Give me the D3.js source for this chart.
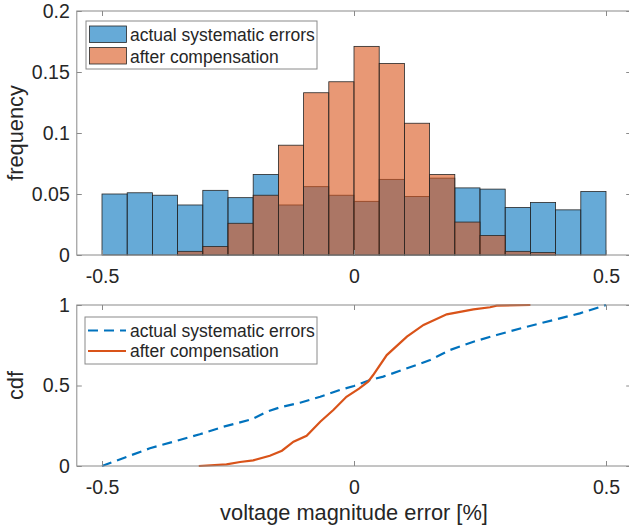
<html>
<head>
  <meta charset="UTF-8">
  <title>Voltage magnitude error</title>
  <script src="https://d3js.org/d3.v7.min.js"></script>
  <style>
    body { margin: 0; background: #fff; }
    text { font-family: "Liberation Sans", Arial, Helvetica, sans-serif; fill: #262626; }
  </style>
</head>
<body>
  <svg id="chart" width="629" height="529"></svg>
  <script>
    /* Data */
    // left edges of the 20 histogram bins (width 0.05)
    const binStarts = [-0.5, -0.45, -0.4, -0.35, -0.3, -0.25, -0.2, -0.15, -0.1, -0.05,
                       0, 0.05, 0.1, 0.15, 0.2, 0.25, 0.3, 0.35, 0.4, 0.45];
    const binWidth = 0.05;
    const actualFreq = [0.050, 0.051, 0.049, 0.041, 0.053, 0.047, 0.066, 0.041, 0.056, 0.049,
                        0.044, 0.062, 0.048, 0.063, 0.055, 0.054, 0.039, 0.043, 0.037, 0.052];
    const compFreq = [0, 0, 0, 0.003, 0.007, 0.026, 0.049, 0.090, 0.133, 0.142,
                      0.171, 0.157, 0.108, 0.066, 0.027, 0.016, 0.003, 0.002, 0, 0];

    // cdf curves: [error, cdf]
    const actualCdf = [[-0.5, 0], [-0.405, 0.11], [-0.306, 0.197], [-0.259, 0.244], [-0.203, 0.29],
                       [-0.173, 0.337], [-0.147, 0.364], [-0.107, 0.393], [-0.067, 0.43], [-0.028, 0.472],
                       [0, 0.497], [0.032, 0.534], [0.058, 0.555], [0.111, 0.613], [0.151, 0.658],
                       [0.19, 0.72], [0.237, 0.772], [0.283, 0.814], [0.343, 0.865], [0.396, 0.907],
                       [0.448, 0.948], [0.5, 1]];
    const compCdf = [[-0.308, 0], [-0.253, 0.01], [-0.226, 0.025], [-0.2, 0.035], [-0.167, 0.064],
                     [-0.143, 0.095], [-0.12, 0.151], [-0.094, 0.188], [-0.067, 0.275], [-0.041, 0.348],
                     [-0.015, 0.43], [0.01, 0.48], [0.028, 0.524], [0.038, 0.565], [0.065, 0.689],
                     [0.105, 0.803], [0.138, 0.876], [0.184, 0.942], [0.237, 0.973], [0.27, 0.986],
                     [0.283, 0.996], [0.35, 1]];

    const xTicks = [-0.5, 0, 0.5];
    const histTicks = [0, 0.05, 0.1, 0.15, 0.2];
    const cdfTicks = [0, 0.5, 1];
    const seriesNames = ["actual systematic errors", "after compensation"];

    /* Constants */
    const svg = d3.select("#chart");
    const blue = "#0072BD";
    const orange = "#D95319";
    const axisColor = "#8a8a8a";
    const tickFont = 19.5, legendFont = 17.5, labelFont = 21.8;

    const x = d3.scaleLinear().domain([-0.5, 0.5]).range([102, 606]);
    const left = x(-0.55), right = x(0.55);
    const histTop = 11, histBottom = 255;
    const cdfTop = 305, cdfBottom = 466;
    const yHist = d3.scaleLinear().domain([0, 0.2]).range([histBottom, histTop]);
    const yCdf = d3.scaleLinear().domain([0, 1]).range([cdfBottom, cdfTop]);

    // matlab-style labels: plain hyphen for negatives
    const plain = d => String(d);

    svg.append("rect").attr("width", 629).attr("height", 529).attr("fill", "#fff");

    function drawFrame(yScale, yTicks, top, bottom) {
      const g = svg.append("g");
      g.append("rect")
        .attr("x", left).attr("y", top)
        .attr("width", right - left).attr("height", bottom - top)
        .attr("fill", "none").attr("stroke", axisColor).attr("stroke-width", 1);

      g.append("g").attr("transform", `translate(0, ${bottom})`)
        .call(d3.axisBottom(x).tickValues(xTicks).tickSize(-5).tickPadding(14.5).tickFormat(plain));
      g.append("g").attr("transform", `translate(0, ${top})`)
        .call(d3.axisTop(x).tickValues(xTicks).tickSize(-5).tickFormat(""));
      g.append("g").attr("transform", `translate(${left}, 0)`)
        .call(d3.axisLeft(yScale).tickValues(yTicks).tickSize(-5).tickPadding(7).tickFormat(plain));
      g.append("g").attr("transform", `translate(${right}, 0)`)
        .call(d3.axisRight(yScale).tickValues(yTicks).tickSize(-5).tickFormat(""));

      g.selectAll(".domain").remove();
      g.selectAll(".tick line").attr("stroke", axisColor);
      g.selectAll(".tick text").attr("font-size", tickFont).attr("fill", "#262626")
        .style("font-family", "'Liberation Sans', Arial, sans-serif");
      return g;
    }

    /* Histogram panel */
    const histArea = svg.append("g");
    [[actualFreq, blue], [compFreq, orange]].forEach(([vals, color]) => {
      histArea.selectAll(null)
        .data(vals.map((v, i) => ({ x0: binStarts[i], v: v })).filter(d => d.v > 0))
        .join("rect")
        .attr("x", d => x(d.x0))
        .attr("y", d => yHist(d.v))
        .attr("width", d => x(d.x0 + binWidth) - x(d.x0))
        .attr("height", d => yHist(0) - yHist(d.v))
        .attr("fill", color)
        .attr("fill-opacity", 0.6)
        .attr("stroke", "#262626")
        .attr("stroke-width", 0.8);
    });
    drawFrame(yHist, histTicks, histTop, histBottom);

    svg.append("text")
      .attr("transform", `translate(23, ${(histTop + histBottom) / 2}) rotate(-90)`)
      .attr("text-anchor", "middle")
      .attr("font-size", labelFont)
      .text("frequency");

    // histogram legend
    const leg1 = svg.append("g");
    leg1.append("rect").attr("x", 86).attr("y", 21).attr("width", 231).attr("height", 48)
      .attr("fill", "#fff").attr("stroke", axisColor).attr("stroke-width", 1);
    [blue, orange].forEach((color, i) => {
      leg1.append("rect")
        .attr("x", 89.5).attr("y", 26 + i * 21.5).attr("width", 37).attr("height", 16.5)
        .attr("fill", color).attr("fill-opacity", 0.6)
        .attr("stroke", "#262626").attr("stroke-width", 0.8);
      leg1.append("text")
        .attr("x", 130).attr("y", 40.5 + i * 22)
        .attr("font-size", legendFont)
        .text(seriesNames[i]);
    });

    /* CDF panel */
    const line = d3.line().x(d => x(d[0])).y(d => yCdf(d[1]));
    svg.append("path").datum(actualCdf).attr("d", line)
      .attr("fill", "none").attr("stroke", blue).attr("stroke-width", 2.2)
      .attr("stroke-dasharray", "10,6");
    svg.append("path").datum(compCdf).attr("d", line)
      .attr("fill", "none").attr("stroke", orange).attr("stroke-width", 2.2);
    drawFrame(yCdf, cdfTicks, cdfTop, cdfBottom);

    svg.append("text")
      .attr("transform", `translate(23, ${(cdfTop + cdfBottom) / 2}) rotate(-90)`)
      .attr("text-anchor", "middle")
      .attr("font-size", labelFont)
      .text("cdf");

    svg.append("text")
      .attr("x", x(0))
      .attr("y", 520)
      .attr("text-anchor", "middle")
      .attr("font-size", labelFont)
      .text("voltage magnitude error [%]");

    // cdf legend
    const leg2 = svg.append("g");
    leg2.append("rect").attr("x", 85).attr("y", 317).attr("width", 232).attr("height", 47)
      .attr("fill", "#fff").attr("stroke", axisColor).attr("stroke-width", 1);
    [blue, orange].forEach((color, i) => {
      leg2.append("line")
        .attr("x1", 88).attr("x2", 126)
        .attr("y1", 330.5 + i * 20.5).attr("y2", 330.5 + i * 20.5)
        .attr("stroke", color).attr("stroke-width", 2.2)
        .attr("stroke-dasharray", i === 0 ? "10,6" : null);
      leg2.append("text")
        .attr("x", 130).attr("y", 336.5 + i * 20.5)
        .attr("font-size", legendFont)
        .text(seriesNames[i]);
    });
  </script>
</body>
</html>
